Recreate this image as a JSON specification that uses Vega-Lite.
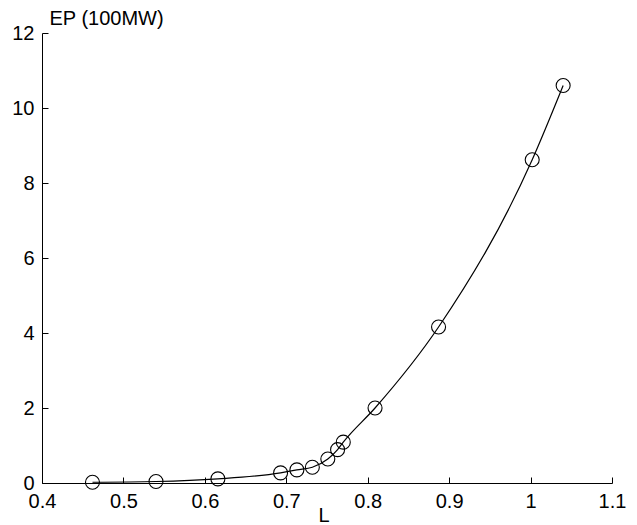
{
  "$schema": "https://vega.github.io/schema/vega-lite/v6.json",
  "autosize": "none",
  "width": 570,
  "height": 450,
  "padding": {"left": 42, "top": 33, "right": 25, "bottom": 42},
  "background": "white",
  "config": {"view": {"stroke": null}, "font": "Liberation Sans"},
  "data": {"values": [
    {"L": 0.462, "EP": 0.02},
    {"L": 0.540, "EP": 0.04},
    {"L": 0.616, "EP": 0.11},
    {"L": 0.693, "EP": 0.27},
    {"L": 0.713, "EP": 0.35},
    {"L": 0.732, "EP": 0.42},
    {"L": 0.751, "EP": 0.64},
    {"L": 0.763, "EP": 0.89},
    {"L": 0.770, "EP": 1.09},
    {"L": 0.809, "EP": 2.0},
    {"L": 0.887, "EP": 4.16},
    {"L": 1.002, "EP": 8.62},
    {"L": 1.040, "EP": 10.6}
  ]},
  "encoding": {
    "x": {"field": "L", "type": "quantitative",
      "scale": {"domain": [0.4, 1.1], "nice": false, "zero": false},
      "axis": {"values": [0.4, 0.5, 0.6, 0.7, 0.8, 0.9, 1.0, 1.1], "format": "~g", "grid": false,
        "domainColor": "black", "tickColor": "black", "tickSize": -6, "labelPadding": 14,
        "labelFontSize": 20, "labelColor": "black", "labelFlush": false,
        "title": "L", "titleFontSize": 20, "titleFontWeight": "normal", "titleColor": "black",
        "titleAnchor": "start", "titleAlign": "left", "titleX": 276, "titleY": 38, "titleBaseline": "alphabetic"}},
    "y": {"field": "EP", "type": "quantitative",
      "scale": {"domain": [0, 12], "nice": false},
      "axis": {"values": [0, 2, 4, 6, 8, 10, 12], "grid": false,
        "domainColor": "black", "tickColor": "black", "tickSize": -6, "labelPadding": 14,
        "labelFontSize": 20, "labelColor": "black", "labelFlush": false,
        "title": "EP (100MW)", "titleAngle": 0, "titleFontSize": 20, "titleFontWeight": "normal", "titleColor": "black",
        "titleAlign": "left", "titleX": 7, "titleY": -9, "titleBaseline": "alphabetic", "titleAnchor": "end"}}
  },
  "layer": [
    {"mark": {"type": "line", "color": "black", "strokeWidth": 1.2, "interpolate": "monotone"}},
    {"mark": {"type": "point", "shape": "circle", "size": 196, "filled": false, "color": "black", "strokeWidth": 1.1, "opacity": 1}}
  ]
}
